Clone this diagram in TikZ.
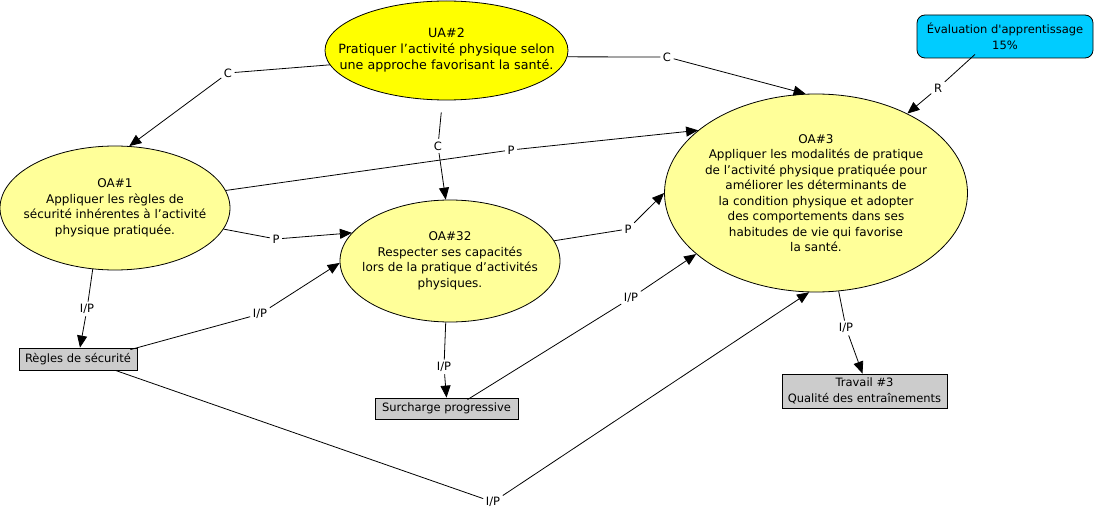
\documentclass[tikz,border=0pt]{standalone}
\usepackage{fontspec}
\setmainfont{DejaVu Sans}[Ligatures=TeXOff]
\usetikzlibrary{shapes.geometric,arrows.meta}
\definecolor{uayellow}{HTML}{FFFF00}
\definecolor{oayellow}{HTML}{FFFF99}
\definecolor{evalcyan}{HTML}{00CCFF}
\definecolor{boxgray}{HTML}{CCCCCC}
\tikzset{
  x=1pt, y=-1pt,
  every node/.style={font=\fontsize{11.5}{15.5}\selectfont},
  concept/.style={ellipse, draw=black, line width=0.8pt, inner sep=0pt},
  ctext/.style={align=center, inner sep=0pt, font=\fontsize{12}{15.5}\selectfont},
  rbox/.style={rectangle, draw=black, line width=0.8pt, fill=boxgray, align=center, inner sep=0pt},
  lbl/.style={fill=white, inner sep=2.5pt},
  link/.style={draw=black, line width=0.8pt},
  arr/.style={link, -{Triangle[length=12pt,width=10pt]}},
}
\begin{document}
\begin{tikzpicture}
\useasboundingbox[fill=white] (0,0) rectangle (1098,513);

% concepts
\node[concept, fill=uayellow, minimum width=243pt, minimum height=99pt] (ua2) at (446.5,50.5) {};
\node[ctext, font=\fontsize{12.7}{16}\selectfont] (ua2t) at (ua2.center) {UA\#2\\Pratiquer l’activité physique selon\\une approche favorisant la santé.};

\node[concept, fill=oayellow, minimum width=230pt, minimum height=124pt] (oa1) at (115,208) {};
\node[ctext] (oa1t) at (oa1.center) {OA\#1\\Appliquer les règles de\\sécurité inhérentes à l’activité\\physique pratiquée.};

\node[concept, fill=oayellow, minimum width=220pt, minimum height=122pt] (oa32) at (450,261) {};
\node[ctext] (oa32t) at (oa32.center) {OA\#32\\Respecter ses capacités\\lors de la pratique d’activités\\physiques.};

\node[concept, fill=oayellow, minimum width=303pt, minimum height=198pt] (oa3) at (816,193) {};
\node[ctext] (oa3t) at (oa3.center) {OA\#3\\Appliquer les modalités de pratique\\de l’activité physique pratiquée pour\\améliorer les déterminants de\\la condition physique et adopter\\des comportements dans ses\\habitudes de vie qui favorise\\la santé.};

\node[rbox, fill=evalcyan, rounded corners=8pt, minimum width=176pt, minimum height=43pt] (eval) at (1005,36.5) {Évaluation d'apprentissage\\15\%};

\node[rbox, minimum width=118pt, minimum height=22pt] (regles) at (78,359) {Règles de sécurité};
\node[rbox, minimum width=143pt, minimum height=21pt] (surch) at (446.5,408.5) {Surcharge progressive};
\node[rbox, minimum width=165pt, minimum height=34pt] (trav) at (864.5,391) {Travail \#3\\Qualité des entraînements};

% labels
\node[lbl] (c1) at (228,73) {C};
\node[lbl] (c2) at (667,57) {C};
\node[lbl] (c3) at (438,146) {C};
\node[lbl] (p1) at (511,150) {P};
\node[lbl] (p2) at (276,239) {P};
\node[lbl] (p3) at (628,229) {P};
\node[lbl] (ip1) at (87,309) {I/P};
\node[lbl] (ip2) at (260,314) {I/P};
\node[lbl] (ip3) at (444,367) {I/P};
\node[lbl] (ip4) at (631,298) {I/P};
\node[lbl] (ip5) at (493,502) {I/P};
\node[lbl] (ip6) at (846,328) {I/P};
\node[lbl] (r) at (938,88) {R};

% connectors
\draw[link] (ua2.187) -- (c1);
\draw[arr] (c1) -- (oa1.77);
\draw[link] (ua2.357) -- (c2);
\draw[arr] (c2) -- (oa3.96);
\draw[link] ([yshift=-12pt]ua2.264) -- (c3);
\draw[arr] (c3) -- (oa32.94);

\draw[link] (oa1.9) -- (p1);
\draw[arr] (p1) -- (oa3.152);
\draw[link] (oa1.349) -- (p2);
\draw[arr] (p2) -- (oa32.164);
\draw[link] (oa32.11) -- (p3);
\draw[arr] (p3) -- (oa3.180);

\draw[link] (oa1.250) -- (ip1);
\draw[arr] (ip1) -- ([xshift=2pt]regles.north);
\draw[link] ([xshift=-7pt,yshift=-2pt]regles.north east) -- (ip2);
\draw[arr] (ip2) -- (oa32.181);
\draw[link] ([xshift=-22pt]regles.south east) -- (ip5);
\draw[arr] (ip5) -- (oa3.266);

\draw[link] (oa32.266) -- (ip3);
\draw[arr] (ip3) -- (surch.north);
\draw[link] ([xshift=21pt,yshift=-2pt]surch.north) -- (ip4);
\draw[arr] (ip4) -- (oa3.207);

\draw[link] (oa3.283) -- (ip6);
\draw[arr] (ip6) -- ([xshift=-2pt]trav.north);
\draw[link] ([xshift=-30pt,yshift=4pt]eval.south) -- (r);
\draw[arr] (r) -- (oa3.41);
\end{tikzpicture}
\end{document}
